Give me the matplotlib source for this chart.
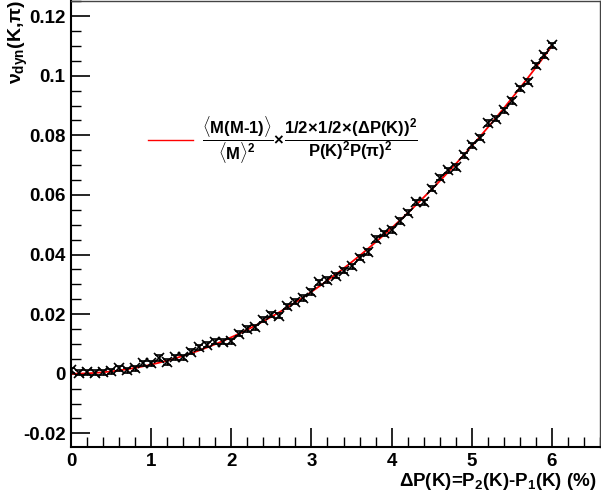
import numpy as np
import matplotlib
matplotlib.use("Agg")
import matplotlib.pyplot as plt
from matplotlib.ticker import MultipleLocator, FixedLocator

plt.rcParams['font.family'] = ['Liberation Sans', 'DejaVu Sans']
plt.rcParams['font.weight'] = 'bold'
plt.rcParams['mathtext.fontset'] = 'custom'
plt.rcParams['mathtext.rm'] = 'Liberation Sans:bold'
plt.rcParams['mathtext.it'] = 'Liberation Sans:bold'
plt.rcParams['mathtext.bf'] = 'Liberation Sans:bold'
plt.rcParams['mathtext.sf'] = 'Liberation Sans:bold'

# data
dp = [0.0, 0.1, 0.2, 0.3, 0.4, 0.5, 0.6, 0.7, 0.8, 0.9,
      1.0, 1.1, 1.2, 1.3, 1.4, 1.5, 1.6, 1.7, 1.8, 1.9,
      2.0, 2.1, 2.2, 2.3, 2.4, 2.5, 2.6, 2.7, 2.8, 2.9,
      3.0, 3.1, 3.2, 3.3, 3.4, 3.5, 3.6, 3.7, 3.8, 3.9,
      4.0, 4.1, 4.2, 4.3, 4.4, 4.5, 4.6, 4.7, 4.8, 4.9,
      5.0, 5.1, 5.2, 5.3, 5.4, 5.5, 5.6, 5.7, 5.8, 5.9, 6.0]
nu_dyn = [0.0011, 0.0003, 0.0005, 0.0003, 0.0005, 0.0008, 0.0018, 0.0011, 0.0018, 0.0035,
          0.0035, 0.0053, 0.0039, 0.0055, 0.0055, 0.0074, 0.0089, 0.0097, 0.0108, 0.0108,
          0.0109, 0.0134, 0.0150, 0.0156, 0.0181, 0.0198, 0.0195, 0.0226, 0.0242, 0.0254,
          0.0274, 0.0307, 0.0315, 0.0329, 0.0346, 0.0360, 0.0390, 0.0409, 0.0452, 0.0471,
          0.0482, 0.0513, 0.0541, 0.0575, 0.0575, 0.0621, 0.0658, 0.0683, 0.0694, 0.0733,
          0.0767, 0.0792, 0.0841, 0.0856, 0.0884, 0.0915, 0.0958, 0.0980, 0.1035, 0.1069, 0.1102]
nu_err = 0.0009
curve_coef = 0.003056   # nu = coef * dP^2
curve_x = np.linspace(0, 6, 200)

x_ticks = [0, 1, 2, 3, 4, 5, 6]
x_ticklabels = ['0', '1', '2', '3', '4', '5', '6']
y_ticks = [-0.02, 0, 0.02, 0.04, 0.06, 0.08, 0.1, 0.12]
y_ticklabels = ['-0.02', '0', '0.02', '0.04', '0.06', '0.08', '0.1', '0.12']

fig = plt.figure(figsize=(6.01, 4.98), dpi=100)
ax = fig.add_axes([71/601, 1 - 447/498, 529/601, 446/498])

ax.plot(curve_x, curve_coef * curve_x**2, color='red', lw=1.3, zorder=2)
ax.errorbar(dp, nu_dyn, yerr=nu_err, fmt='x', color='black', ms=6.5, mew=1.2,
            elinewidth=1.0, capsize=3, capthick=1.0, zorder=3)

ax.set_xlim(0, 6.6)
ax.set_ylim(-0.0246, 0.1251)

ax.xaxis.set_major_locator(FixedLocator(x_ticks))
ax.xaxis.set_minor_locator(MultipleLocator(0.2))
ax.yaxis.set_major_locator(FixedLocator(y_ticks))
ax.yaxis.set_minor_locator(MultipleLocator(0.005))
ax.set_xticklabels(x_ticklabels)
ax.set_yticklabels(y_ticklabels)

ax.tick_params(axis='both', which='major', direction='in', length=14, width=1.2,
               labelsize=13.5, top=False, right=False)
ax.tick_params(axis='both', which='minor', direction='in', length=7, width=1.0,
               top=False, right=False)
ax.tick_params(axis='x', which='major', pad=4)
ax.tick_params(axis='y', which='major', pad=4)
for lab in ax.get_xticklabels() + ax.get_yticklabels():
    lab.set_fontweight('bold')

for s in ['left', 'bottom']:
    ax.spines[s].set_linewidth(1.5)
for s in ['top', 'right']:
    ax.spines[s].set_linewidth(1.0)
    ax.spines[s].set_color('#444444')

fig.text(597/601, 1 - 486/498, r'$\Delta$P(K)=P$_2$(K)-P$_1$(K) (%)', ha='right', va='baseline',
         fontsize=13.5, fontweight='bold')
fig.text(18/601, 1 - 42/498, r'$\nu_{\rm dyn}$(K,$\pi$)', rotation=90, ha='center', va='center',
         fontsize=14, fontweight='bold')

# legend
fig.lines.append(plt.Line2D([148/601, 193/601], [1 - 140/498, 1 - 140/498],
                            color='red', lw=1.0, transform=fig.transFigure))
fig.text(202/601, 1 - 140/498,
         r'$\dfrac{\langle M(M\text{-}1)\rangle}{\langle M\rangle^2}\!\times\!\dfrac{1/2\!\times\!1/2\!\times\!(\Delta P(K))^2}{P(K)^2P(\pi)^2}$',
         ha='left', va='center', fontsize=12)

fig.savefig('out.png', dpi=100)
